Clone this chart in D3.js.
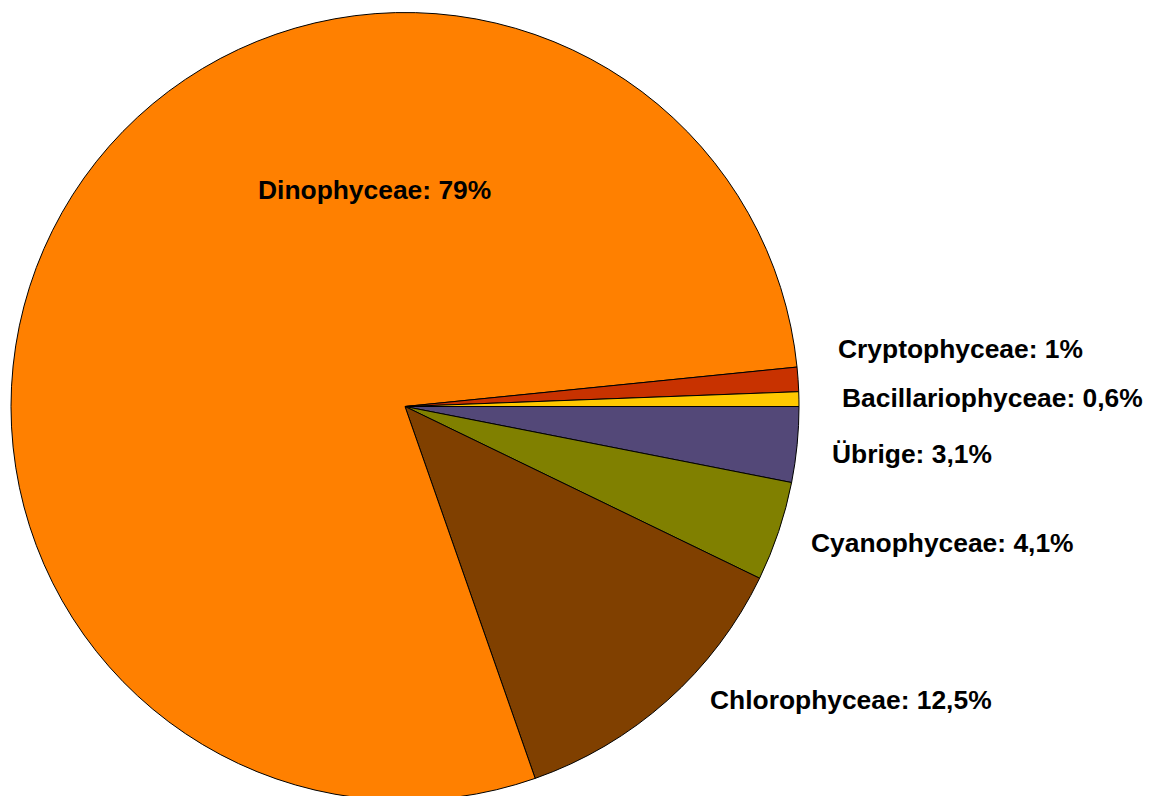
<!DOCTYPE html>
<html>
<head>
<meta charset="utf-8">
<script src="https://cdn.jsdelivr.net/npm/d3@7"></script>
<style>
  html, body { margin: 0; padding: 0; background: #fff; }
  svg { display: block; }
  text { font-family: "Liberation Sans", Arial, sans-serif; font-weight: bold; font-size: 26.4px; fill: #000; }
</style>
</head>
<body>
<svg id="chart" width="1156" height="796"></svg>
<script>
// Phytoplankton class composition (share in %)
const categories = ["Übrige", "Cyanophyceae", "Chlorophyceae", "Dinophyceae", "Cryptophyceae", "Bacillariophyceae"];
const values = [3.1, 4.1, 12.5, 79, 1, 0.6];
const colors = ["#534878", "#808000", "#804000", "#FF8000", "#C83200", "#FFC800"];

// Label anchors (left edge, baseline) for each class
const labelAnchor = {
  "Dinophyceae": [258, 199],
  "Cryptophyceae": [838, 358],
  "Bacillariophyceae": [842, 407],
  "Übrige": [832, 463],
  "Cyanophyceae": [811, 552],
  "Chlorophyceae": [710, 709]
};

const cx = 405, cy = 406.5, radius = 394;

const svg = d3.select("#chart");
const g = svg.append("g").attr("transform", `translate(${cx},${cy})`);

const data = categories.map((c, i) => ({ name: c, value: values[i], color: colors[i] }));

// Start at 3 o'clock, run clockwise
const pie = d3.pie()
  .sort(null)
  .value(d => d.value)
  .startAngle(Math.PI / 2)
  .endAngle(Math.PI / 2 + 2 * Math.PI);

const arc = d3.arc().innerRadius(0).outerRadius(radius);

g.selectAll("path.slice")
  .data(pie(data))
  .join("path")
  .attr("class", "slice")
  .attr("d", arc)
  .attr("fill", d => d.data.color)
  .attr("stroke", "#000")
  .attr("stroke-width", 1)
  .attr("stroke-linejoin", "round");

const fmt = v => d3.format("~g")(v).replace(".", ",") + "%";

svg.selectAll("text.lbl")
  .data(data)
  .join("text")
  .attr("class", "lbl")
  .attr("x", d => labelAnchor[d.name][0])
  .attr("y", d => labelAnchor[d.name][1])
  .text(d => `${d.name}: ${fmt(d.value)}`);
</script>
</body>
</html>
